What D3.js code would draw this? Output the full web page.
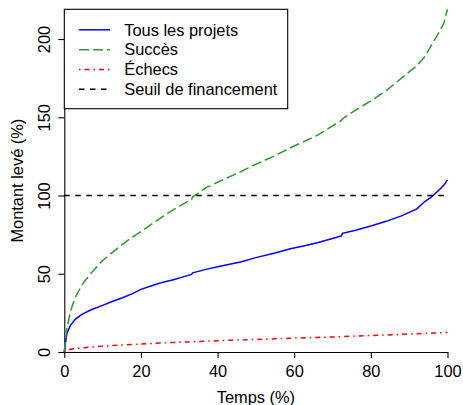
<!DOCTYPE html>
<html>
<head>
<meta charset="utf-8">
<script src="https://cdn.jsdelivr.net/npm/d3@7"></script>
<style>
  html, body { margin: 0; padding: 0; background: #fff; }
  svg { display: block; font-family: "Liberation Sans", Arial, Helvetica, sans-serif; }
</style>
</head>
<body>
<svg id="chart" width="463" height="405"></svg>
<script>
// ---- data ----
const temps = [0, 0.3, 0.7, 1.6, 2.9, 4.6, 7, 10, 12.5, 15, 17.5, 20, 23, 26, 28.5, 31, 33.2, 33.5, 37, 40, 46, 50, 55, 59, 63, 66, 70, 72.3, 72.6, 76, 80, 84, 88, 92, 94, 96, 98, 99, 100];
const tousLesProjets = [0, 6, 12, 17, 21, 24, 27, 29.8, 32.3, 34.5, 37, 40, 42.5, 44.8, 46.2, 48, 49.6, 50.6, 52.8, 54.5, 57.5, 60.3, 63.3, 66, 68, 69.8, 72.5, 74.2, 75.8, 77.8, 80.5, 83.5, 87, 91.5, 96, 99.5, 104, 106.5, 110];
const succes = [0, 8, 15, 26, 35, 42.8, 50.5, 58.5, 63.5, 68.5, 73, 77, 82, 87, 91, 94.5, 97.5, 99, 105, 108.5, 115.2, 120, 125.5, 130.5, 135, 138.5, 144.5, 148, 149, 154.5, 160.5, 167, 175, 183, 188.5, 197, 205, 210, 219];
const echecs = [0, 0.8, 1.2, 1.7, 2.2, 2.7, 3.2, 3.7, 4.1, 4.4, 4.8, 5.1, 5.5, 5.8, 6.1, 6.3, 6.5, 6.6, 6.9, 7.2, 7.7, 8, 8.4, 8.8, 9.1, 9.3, 9.6, 9.8, 9.9, 10.2, 10.5, 10.9, 11.3, 11.7, 11.9, 12.1, 12.3, 12.4, 12.6];
const seuil = [100];
const xTicks = [0, 20, 40, 60, 80, 100];
const yTicks = [0, 50, 100, 150, 200];
const legendLabels = ["Tous les projets", "Succès", "Échecs", "Seuil de financement"];
const xTitle = "Temps (%)";
const yTitle = "Montant levé (%)";

// ---- layout ----
const mLeft = 64.3, mRight = 447.5, mTop = 9.3, mBottom = 352;
const fs = 16.4;
const svg = d3.select("#chart");
const x = d3.scaleLinear().domain([0, 100]).range([mLeft, mRight]);
const y = d3.scaleLinear().domain([0, 219]).range([mBottom, mTop]);

const styles = [
  { color: "#0000ff", dash: null },
  { color: "#2e9a2e", dash: "10,4" },
  { color: "#ff0000", dash: "1.5,4,5,4" },
  { color: "#000000", dash: "5.5,5.5" }
];

// ---- axes ----
const xAxis = svg.append("g")
  .attr("transform", `translate(0,${mBottom})`)
  .call(d3.axisBottom(x).tickValues(xTicks).tickSize(6).tickSizeOuter(0).tickFormat(d3.format("d")));
xAxis.selectAll("text").attr("font-size", fs).attr("y", 0).attr("dy", "24.6px").attr("fill", "#000");

const yAxis = svg.append("g")
  .attr("transform", `translate(${mLeft},0)`)
  .call(d3.axisLeft(y).tickValues(yTicks).tickSize(6).tickSizeOuter(0).tickFormat(d3.format("d")));
yAxis.selectAll("text")
  .attr("x", null).attr("dy", null)
  .attr("text-anchor", "middle")
  .attr("font-size", fs)
  .attr("fill", "#000")
  .attr("transform", "translate(-14.3,0) rotate(-90)");
svg.selectAll(".domain, .tick line").attr("stroke", "#000").attr("stroke-width", 1.1);

// ---- axis titles ----
svg.append("text").attr("x", (mLeft + mRight) / 2).attr("y", 402.5)
  .attr("text-anchor", "middle").attr("font-size", fs).text(xTitle);
svg.append("text")
  .attr("transform", `translate(22.5,${(mTop + mBottom) / 2}) rotate(-90)`)
  .attr("text-anchor", "middle").attr("font-size", fs).text(yTitle);

// ---- lines ----
const line = d3.line().x(d => x(d[0])).y(d => y(d[1]));
const series = [tousLesProjets, succes, echecs];
series.forEach((vals, i) => {
  svg.append("path")
    .attr("d", line(temps.map((t, k) => [t, vals[k]])))
    .attr("fill", "none")
    .attr("stroke", styles[i].color)
    .attr("stroke-width", 1.5)
    .attr("stroke-dasharray", styles[i].dash);
});
svg.append("path")
  .attr("d", line([[0, seuil[0]], [100, seuil[0]]]))
  .attr("fill", "none")
  .attr("stroke", styles[3].color)
  .attr("stroke-width", 1.5)
  .attr("stroke-dasharray", styles[3].dash);

// ---- legend ----
const lg = svg.append("g");
lg.append("rect")
  .attr("x", mLeft).attr("y", mTop)
  .attr("width", 287.7 - mLeft).attr("height", 108.7 - mTop)
  .attr("fill", "#fff").attr("stroke", "#000").attr("stroke-width", 1.1);
legendLabels.forEach((lab, i) => {
  const yy = 29.8 + 19.85 * i;
  lg.append("line")
    .attr("x1", 79).attr("x2", 110).attr("y1", yy).attr("y2", yy)
    .attr("stroke", styles[i].color).attr("stroke-width", 1.5)
    .attr("stroke-dasharray", styles[i].dash);
  lg.append("text").attr("x", 124.3).attr("y", yy + 5.7)
    .attr("font-size", fs).text(lab);
});
</script>
</body>
</html>
